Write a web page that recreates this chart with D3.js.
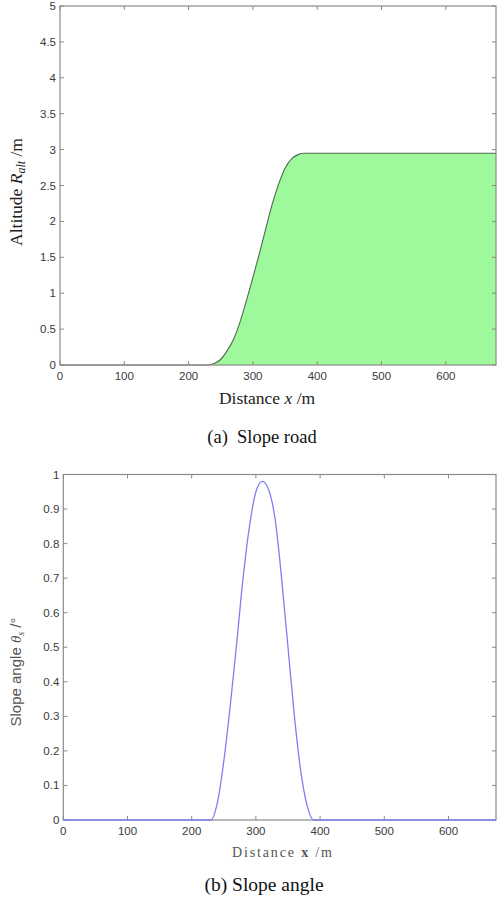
<!DOCTYPE html>
<html><head><meta charset="utf-8">
<script src="https://cdn.jsdelivr.net/npm/d3@7"></script>
<style>body{margin:0;background:#fff;}svg{display:block;}</style>
</head><body>
<svg id="c" width="497" height="903"></svg>
<script>
// ---- data ----
const altDist  = [0, 230, 240, 250, 260, 270, 280, 290, 300, 310, 320, 330, 340, 350, 360, 370, 380, 390, 678];
const altValue = [0, 0, 0.02, 0.08, 0.2, 0.36, 0.6, 0.9, 1.22, 1.55, 1.9, 2.24, 2.52, 2.74, 2.87, 2.93, 2.95, 2.95, 2.95];
const angDist  = [0, 230, 240, 250, 260, 270, 280, 290, 300, 310, 320, 330, 340, 350, 360, 370, 380, 390, 674];
const angValue = [0, 0, 0.05, 0.17, 0.33, 0.51, 0.70, 0.85, 0.95, 0.98, 0.955, 0.87, 0.70, 0.50, 0.30, 0.14, 0.04, 0, 0];
const xTicks   = [0, 100, 200, 300, 400, 500, 600];
const altTicks = [0, 0.5, 1, 1.5, 2, 2.5, 3, 3.5, 4, 4.5, 5];
const angTicks = [0, 0.1, 0.2, 0.3, 0.4, 0.5, 0.6, 0.7, 0.8, 0.9, 1];

const svg = d3.select("#c");
const axisCol = "#8a8a8a", labCol = "#3a3a3a";

function frame(g, x, y, xt, yt, yfmt) {
  const [x0, x1] = x.range(), [y0, y1] = y.range();
  const L = 4;
  xt.forEach(v => {
    g.append("line").attr("x1", x(v)).attr("x2", x(v)).attr("y1", y0).attr("y2", y0 - L).attr("stroke", axisCol);
    g.append("line").attr("x1", x(v)).attr("x2", x(v)).attr("y1", y1).attr("y2", y1 + L).attr("stroke", axisCol);
    g.append("text").attr("x", x(v)).attr("y", y0 + 15).attr("text-anchor", "middle")
      .attr("font-family", "Liberation Sans, Arial, sans-serif").attr("font-size", 11.5).attr("fill", labCol).text(v);
  });
  yt.forEach(v => {
    g.append("line").attr("x1", x0).attr("x2", x0 + L).attr("y1", y(v)).attr("y2", y(v)).attr("stroke", axisCol);
    g.append("line").attr("x1", x1).attr("x2", x1 - L).attr("y1", y(v)).attr("y2", y(v)).attr("stroke", axisCol);
    g.append("text").attr("x", x0 - 4).attr("y", y(v) + 4).attr("text-anchor", "end")
      .attr("font-family", "Liberation Sans, Arial, sans-serif").attr("font-size", 11.5).attr("fill", labCol).text(yfmt(v));
  });
  g.append("rect").attr("x", x0).attr("y", y1).attr("width", x1 - x0).attr("height", y0 - y1)
    .attr("fill", "none").attr("stroke", axisCol).attr("stroke-width", 1.2);
}

// ---- top chart ----
const xA = d3.scaleLinear().domain([0, 678]).range([60, 496]);
const yA = d3.scaleLinear().domain([0, 5]).range([365, 6]);
const gA = svg.append("g");
const altData = altDist.map((d, i) => [d, altValue[i]]);
gA.append("path").datum(altData)
  .attr("d", d3.area().x(d => xA(d[0])).y0(yA(0)).y1(d => yA(d[1])).curve(d3.curveMonotoneX))
  .attr("fill", "#9ef99c");
gA.append("path").datum(altData)
  .attr("d", d3.line().x(d => xA(d[0])).y(d => yA(d[1])).curve(d3.curveMonotoneX))
  .attr("fill", "none").attr("stroke", "#4f6a4f").attr("stroke-width", 1.1);
frame(gA, xA, yA, xTicks, altTicks, v => String(v));

const tA = gA.append("text").attr("transform", "translate(22,192) rotate(-90)").attr("text-anchor", "middle")
  .attr("font-family", "Liberation Serif, Times New Roman, serif").attr("font-size", 17.5).attr("fill", "#222");
tA.append("tspan").text("Altitude ");
tA.append("tspan").attr("font-style", "italic").text("R");
tA.append("tspan").attr("font-style", "italic").attr("font-size", 12).attr("dy", 3).text("alt");
tA.append("tspan").attr("dy", -3).text(" /m");
const xtA = gA.append("text").attr("x", 267).attr("y", 404).attr("text-anchor", "middle")
  .attr("font-family", "Liberation Serif, Times New Roman, serif").attr("font-size", 17.5).attr("fill", "#222");
xtA.append("tspan").text("Distance ");
xtA.append("tspan").attr("font-style", "italic").text("x");
xtA.append("tspan").text(" /m");
svg.append("text").attr("x", 262).attr("y", 443).attr("text-anchor", "middle")
  .attr("font-family", "Liberation Serif, Times New Roman, serif").attr("font-size", 18.5).attr("fill", "#111")
  .attr("xml:space", "preserve").text("(a)  Slope road");

// ---- bottom chart ----
const xB = d3.scaleLinear().domain([0, 674]).range([63.3, 496]);
const yB = d3.scaleLinear().domain([0, 1]).range([820, 474.5]);
const gB = svg.append("g");
const angData = angDist.map((d, i) => [d, angValue[i]]);
frame(gB, xB, yB, xTicks, angTicks, v => String(+v.toFixed(1)));
gB.append("path").datum(angData)
  .attr("d", d3.line().x(d => xB(d[0])).y(d => yB(d[1])).curve(d3.curveMonotoneX))
  .attr("fill", "none").attr("stroke", "#7f7ff2").attr("stroke-width", 1.3);

const tB = gB.append("text").attr("transform", "translate(21,672) rotate(-90)").attr("text-anchor", "middle")
  .attr("font-family", "Liberation Sans, Arial, sans-serif").attr("font-size", 15).attr("fill", "#555");
tB.append("tspan").text("Slope angle ");
tB.append("tspan").attr("font-family", "Liberation Serif, serif").attr("font-style", "italic").text("θ");
tB.append("tspan").attr("font-family", "Liberation Serif, serif").attr("font-style", "italic").attr("font-size", 10).attr("dy", 3).text("s");
tB.append("tspan").attr("dy", -3).text(" /°");
const xtB = gB.append("text").attr("x", 232).attr("y", 857)
  .attr("font-family", "Liberation Serif, Times New Roman, serif").attr("font-size", 14).attr("fill", "#555")
  .attr("textLength", 100).attr("lengthAdjust", "spacing");
xtB.append("tspan").text("Distance ");
xtB.append("tspan").attr("font-weight", "bold").text("x");
xtB.append("tspan").text(" /m");
svg.append("text").attr("x", 264).attr("y", 891).attr("text-anchor", "middle")
  .attr("font-family", "Liberation Serif, Times New Roman, serif").attr("font-size", 19.5).attr("fill", "#111")
  .text("(b) Slope angle");
</script>
</body></html>
